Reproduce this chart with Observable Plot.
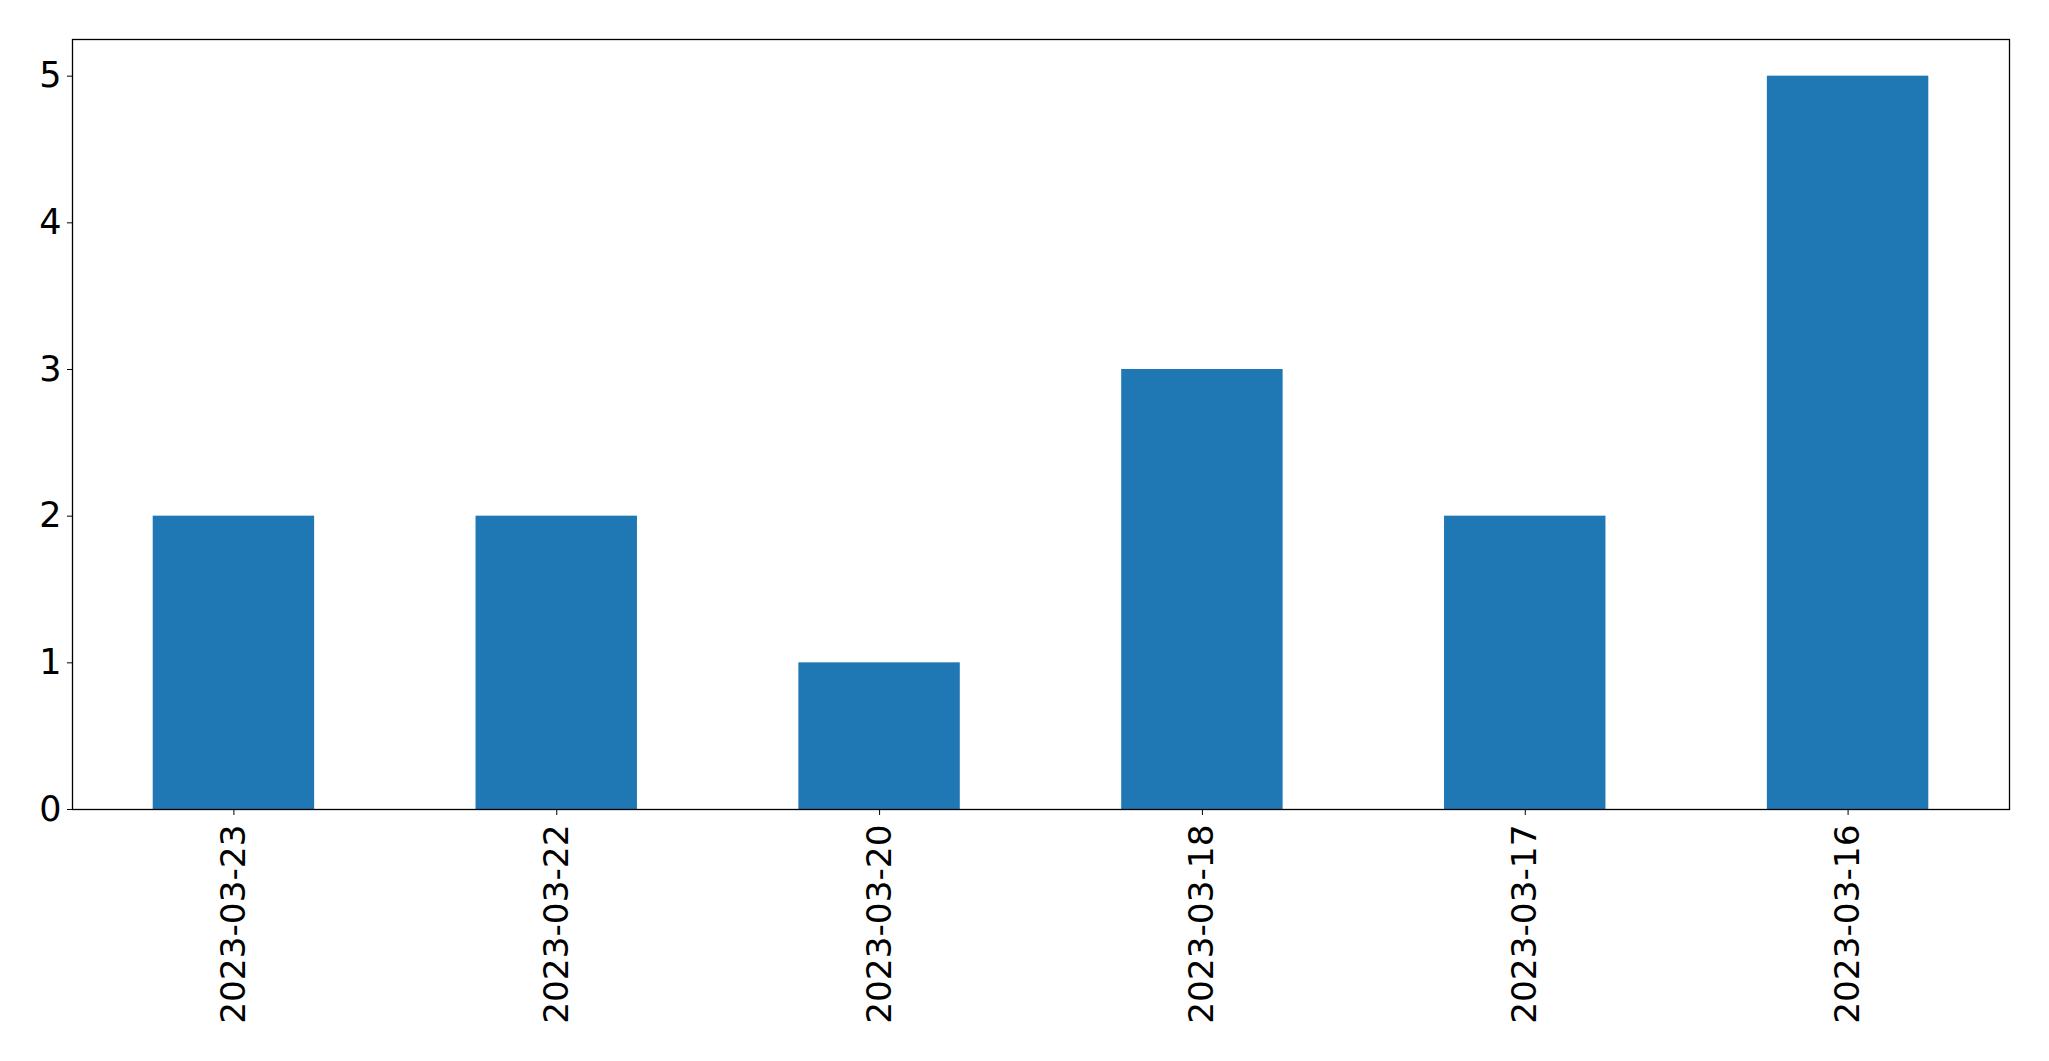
<!DOCTYPE html>
<html>
<head>
<meta charset="utf-8">
<script src="https://cdn.jsdelivr.net/npm/d3@7"></script>
<script src="https://cdn.jsdelivr.net/npm/@observablehq/plot@0.6"></script>
<style>
  html, body { margin: 0; padding: 0; background: #fff; }
  #chart svg { display: block; }
</style>
</head>
<body>
<div id="chart"></div>
<script>
const dates = ["2023-03-23", "2023-03-22", "2023-03-20", "2023-03-18", "2023-03-17", "2023-03-16"];
const counts = [2, 2, 1, 3, 2, 5];
const yTicks = [0, 1, 2, 3, 4, 5];

const data = dates.map((d, i) => ({date: d, count: counts[i]}));

const chart = Plot.plot({
  width: 2049,
  height: 1061,
  marginLeft: 72,
  marginRight: 40,
  marginTop: 39,
  marginBottom: 252,
  style: {fontFamily: "DejaVu Sans", background: "#fff", color: "#000"},
  x: {type: "band", domain: dates, paddingInner: 0.5, paddingOuter: 0.25, round: false, label: null},
  y: {domain: [0, 5.25], label: null},
  marks: [
    Plot.barY(data, {x: "date", y: "count", fill: "#1f77b4"}),
    Plot.axisY({ticks: yTicks, tickFormat: d => String(d), fontSize: 35, tickSize: 5, tickPadding: 6, label: null, stroke: "#000"}),
    Plot.axisX({tickRotate: -90, fontSize: 34.3, tickSize: 6, tickPadding: 9, label: null, stroke: "#000"}),
    Plot.frame({stroke: "#000", strokeWidth: 1.3})
  ]
});
document.getElementById("chart").appendChild(chart);
</script>
</body>
</html>
